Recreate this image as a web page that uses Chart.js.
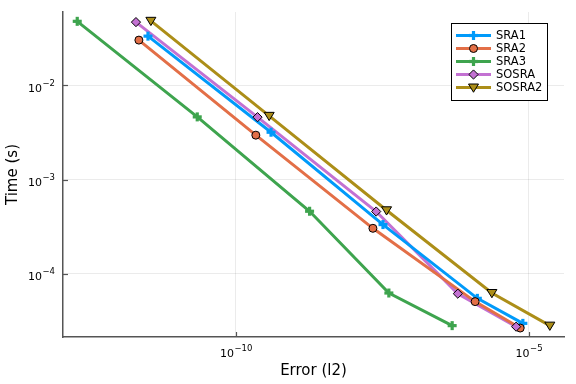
<!DOCTYPE html>
<html>
<head>
<meta charset="utf-8">
<script src="https://cdn.jsdelivr.net/npm/chart.js@4/dist/chart.umd.min.js"></script>
<style>
html,body{margin:0;padding:0;background:#fff;}
#wrap{width:576px;height:384px;position:relative;}
</style>
</head>
<body>
<div id="wrap"><canvas id="c" width="576" height="384"></canvas></div>
<script>
const seriesNames = ['SRA1', 'SRA2', 'SRA3', 'SOSRA', 'SOSRA2'];
const errSRA1 = [3.16e-12, 3.98e-10, 3.24e-8, 1.32e-6, 7.9e-6];
const timeSRA1 = [0.0334, 0.00318, 3.32e-4, 5.46e-5, 2.96e-5];
const errSRA2 = [2.21e-12, 2.19e-10, 2.18e-8, 1.21e-6, 7.11e-6];
const timeSRA2 = [0.0303, 0.00296, 3.03e-4, 5.04e-5, 2.64e-5];
const errSRA3 = [1.96e-13, 2.19e-11, 1.81e-9, 4.08e-8, 4.91e-7];
const timeSRA3 = [0.048, 0.00463, 4.6e-4, 6.22e-5, 2.8e-5];
const errSOSRA = [1.97e-12, 2.34e-10, 2.48e-8, 6.14e-7, 6.07e-6];
const timeSOSRA = [0.0471, 0.0046, 4.57e-4, 6.12e-5, 2.73e-5];
const errSOSRA2 = [3.54e-12, 3.70e-10, 3.73e-8, 2.34e-6, 2.28e-5];
const timeSOSRA2 = [0.0486, 0.00475, 4.71e-4, 6.22e-5, 2.8e-5];
const xTickValues = [1e-10, 1e-5];
const xTickLabels = [['10', '\u221210'], ['10', '\u22125']];
const yTickValues = [1e-4, 1e-3, 1e-2];
const yTickLabels = [['10', '\u22124'], ['10', '\u22123'], ['10', '\u22122']];
const xTitle = 'Error (l2)';
const yTitle = 'Time (s)';

const colors = ['#009AFA', '#E36F47', '#3EA44E', '#C371D2', '#AC8E18'];
const markers = ['cross', 'circle', 'cross', 'diamond', 'tridown'];
const errs = [errSRA1, errSRA2, errSRA3, errSOSRA, errSOSRA2];
const times = [timeSRA1, timeSRA2, timeSRA3, timeSOSRA, timeSOSRA2];

function drawMarker(ctx, type, x, y, color) {
  ctx.save();
  ctx.fillStyle = color;
  ctx.strokeStyle = '#000';
  ctx.lineWidth = 1;
  if (type === 'cross') {
    ctx.fillRect(x - 4.5, y - 1.6, 9, 3.2);
    ctx.fillRect(x - 1.6, y - 4.5, 3.2, 9);
  } else if (type === 'circle') {
    ctx.beginPath(); ctx.arc(x, y, 4, 0, Math.PI * 2); ctx.fill(); ctx.stroke();
  } else if (type === 'diamond') {
    const r = 4.6;
    ctx.beginPath(); ctx.moveTo(x, y - r); ctx.lineTo(x + r, y); ctx.lineTo(x, y + r); ctx.lineTo(x - r, y); ctx.closePath(); ctx.fill(); ctx.stroke();
  } else if (type === 'tridown') {
    const r = 5;
    ctx.beginPath(); ctx.moveTo(x - r, y - r * 0.7); ctx.lineTo(x + r, y - r * 0.7); ctx.lineTo(x, y + r * 0.95); ctx.closePath(); ctx.fill(); ctx.stroke();
  }
  ctx.restore();
}

const datasets = seriesNames.map((name, i) => ({
  label: name,
  data: errs[i].map((e, j) => ({x: e, y: times[i][j]})),
  showLine: true,
  borderColor: colors[i],
  backgroundColor: colors[i],
  borderWidth: 3,
  pointRadius: 0,
  pointHoverRadius: 0,
  markerType: markers[i],
  order: i
}));

const markerPlugin = {
  id: 'markers',
  afterDatasetsDraw(chart) {
    const ctx = chart.ctx;
    chart.data.datasets.forEach((ds, i) => {
      const meta = chart.getDatasetMeta(i);
      ctx.save();
      ctx.beginPath();
      ctx.rect(chart.chartArea.left, chart.chartArea.top - 10, chart.chartArea.right - chart.chartArea.left, chart.chartArea.bottom - chart.chartArea.top + 10);
      ctx.clip();
      meta.data.forEach(pt => drawMarker(ctx, ds.markerType, pt.x, pt.y, ds.borderColor));
      ctx.restore();
    });
  }
};

const baseFont = '11px "DejaVu Sans"';
const expFont = '8.5px "DejaVu Sans"';

const innerTicks = {
  id: 'innerTicks',
  afterDraw(chart) {
    const ctx = chart.ctx, a = chart.chartArea;
    const xs = chart.scales.x, ys = chart.scales.y;
    ctx.save();
    ctx.strokeStyle = '#555';
    ctx.lineWidth = 1.2;
    xTickValues.forEach(v => { const px = Math.round(xs.getPixelForValue(v)) + 0.5; ctx.beginPath(); ctx.moveTo(px, a.bottom); ctx.lineTo(px, a.bottom - 5); ctx.stroke(); });
    yTickValues.forEach(v => { const py = Math.round(ys.getPixelForValue(v)) + 0.5; ctx.beginPath(); ctx.moveTo(a.left, py); ctx.lineTo(a.left + 5, py); ctx.stroke(); });
    // tick labels with superscript exponent
    ctx.fillStyle = '#000';
    ctx.textBaseline = 'alphabetic';
    ctx.textAlign = 'left';
    xTickValues.forEach((v, i) => {
      const px = xs.getPixelForValue(v);
      ctx.font = baseFont; const wb = ctx.measureText(xTickLabels[i][0]).width;
      ctx.font = expFont; const we = ctx.measureText(xTickLabels[i][1]).width;
      const left = px - (wb + we) / 2;
      const base = a.bottom + 20;
      ctx.font = baseFont; ctx.fillText(xTickLabels[i][0], left, base);
      ctx.font = expFont; ctx.fillText(xTickLabels[i][1], left + wb + 0.5, base - 6);
    });
    yTickValues.forEach((v, i) => {
      const py = ys.getPixelForValue(v);
      ctx.font = baseFont; const wb = ctx.measureText(yTickLabels[i][0]).width;
      ctx.font = expFont; const we = ctx.measureText(yTickLabels[i][1]).width;
      const right = a.left - 8;
      const left = right - wb - we - 0.5;
      const base = py + 6.3;
      ctx.font = baseFont; ctx.fillText(yTickLabels[i][0], left, base);
      ctx.font = expFont; ctx.fillText(yTickLabels[i][1], left + wb + 0.5, base - 6);
    });
    ctx.restore();
  }
};

const legendPlugin = {
  id: 'customLegend',
  afterDraw(chart) {
    const ctx = chart.ctx, a = chart.chartArea;
    const w = 96, h = 77;
    const x0 = a.right - 17 - w, y0 = a.top + 11;
    ctx.save();
    ctx.fillStyle = '#fff';
    ctx.fillRect(x0, y0, w, h);
    ctx.strokeStyle = '#000';
    ctx.lineWidth = 1;
    ctx.strokeRect(Math.round(x0) + 0.5, Math.round(y0) + 0.5, w, h);
    ctx.font = '11.5px "DejaVu Sans"';
    ctx.textBaseline = 'middle';
    chart.data.datasets.forEach((ds, i) => {
      const y = y0 + 12.5 + i * 13;
      ctx.strokeStyle = ds.borderColor;
      ctx.lineWidth = 3;
      ctx.beginPath(); ctx.moveTo(x0 + 5, y); ctx.lineTo(x0 + 40, y); ctx.stroke();
      drawMarker(ctx, ds.markerType, x0 + 22.5, y, ds.borderColor);
      ctx.fillStyle = '#000';
      ctx.fillText(ds.label, x0 + 45, y + 0.5);
    });
    ctx.restore();
  }
};

new Chart(document.getElementById('c'), {
  type: 'scatter',
  data: {datasets},
  plugins: [markerPlugin, innerTicks, legendPlugin],
  options: {
    responsive: false,
    animation: false,
    devicePixelRatio: 1,
    layout: {padding: {left: 0, right: 12, top: 12, bottom: 0}},
    plugins: {legend: {display: false}, tooltip: {enabled: false}},
    scales: {
      x: {
        type: 'logarithmic',
        min: 1.12e-13,
        max: 3.98e-5,
        afterBuildTicks(scale) { scale.ticks = xTickValues.map(v => ({value: v})); },
        afterFit(scale) { scale.height = 47; },
        ticks: {display: false, autoSkip: false, maxRotation: 0},
        grid: {color: 'rgba(0,0,0,0.08)', lineWidth: 1, tickLength: 0, drawTicks: false},
        border: {color: '#555', width: 1.5},
        title: {display: true, text: xTitle, color: '#000', font: {family: '"DejaVu Sans"', size: 15}, padding: {top: 0, bottom: 4}}
      },
      y: {
        type: 'logarithmic',
        min: 2.12e-5,
        max: 0.0603,
        afterBuildTicks(scale) { scale.ticks = yTickValues.map(v => ({value: v})); },
        afterFit(scale) { scale.width = 63; },
        ticks: {display: false, autoSkip: false},
        grid: {color: 'rgba(0,0,0,0.08)', lineWidth: 1, tickLength: 0, drawTicks: false},
        border: {color: '#555', width: 1.5},
        title: {display: true, text: yTitle, color: '#000', font: {family: '"DejaVu Sans"', size: 15}, padding: {top: 4, bottom: 0}}
      }
    }
  }
});
</script>
</body>
</html>
